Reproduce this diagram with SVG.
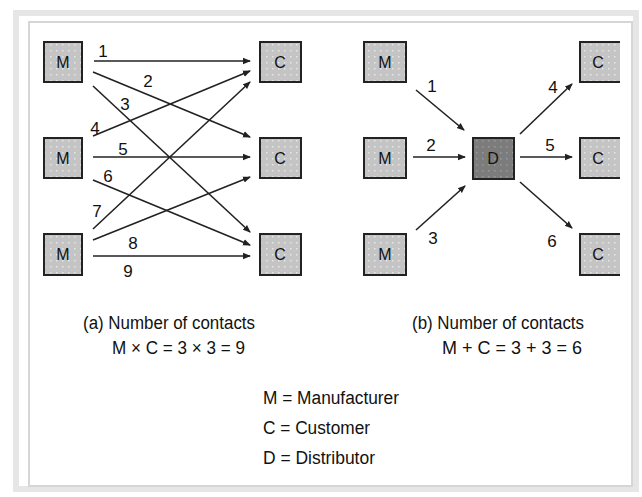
<svg xmlns="http://www.w3.org/2000/svg" width="642" height="497" viewBox="0 0 642 497">
<style>
.frame1{fill:none;stroke:#e6e6e6;stroke-width:6}
.frame2{fill:none;stroke:#d6d6d6;stroke-width:2}
.box{fill:url(#dots);stroke:#222;stroke-width:2}
.dbox{fill:url(#ddots);stroke:#222;stroke-width:2}
.lbl{font-family:"Liberation Sans",Arial,sans-serif;font-size:16px;fill:#111;text-anchor:middle}
.num{font-family:"Liberation Sans",Arial,sans-serif;font-size:17px;fill:#111;text-anchor:middle}
.txt{font-family:"Liberation Sans",Arial,sans-serif;font-size:18px;fill:#111}
.conn line{stroke:#222;stroke-width:1.6;marker-end:url(#ah)}
</style>
<defs>
<pattern id="dots" width="6" height="6" patternUnits="userSpaceOnUse">
<rect width="6" height="6" fill="#c4c4c4"/>
<rect x="2" y="2" width="1.5" height="1.5" fill="#e6e6e6"/>
</pattern>
<pattern id="ddots" width="6" height="6" patternUnits="userSpaceOnUse">
<rect width="6" height="6" fill="#7c7c7c"/>
<rect x="2" y="2" width="1.5" height="1.5" fill="#9a9a9a"/>
</pattern>
<marker id="ah" markerWidth="8" markerHeight="8" refX="7" refY="4" orient="auto" markerUnits="userSpaceOnUse">
<path d="M0,0.8 L8,4 L0,7.2 Z" fill="#222"/>
</marker>
</defs>
<rect width="642" height="497" fill="#ffffff"/>
<rect class="frame1" x="16" y="13" width="620" height="476"/>
<rect class="frame2" x="29" y="22" width="603" height="464"/>

<g class="conn">
<line x1="94" y1="61" x2="250" y2="61"/>
<line x1="93" y1="72" x2="250" y2="137"/>
<line x1="93" y1="86" x2="250" y2="232"/>
<line x1="93" y1="136" x2="250" y2="71"/>
<line x1="93" y1="157" x2="250" y2="157"/>
<line x1="93" y1="180" x2="250" y2="245"/>
<line x1="93" y1="229" x2="250" y2="82"/>
<line x1="93" y1="240" x2="250" y2="177"/>
<line x1="93" y1="256" x2="250" y2="256"/>
<line x1="416" y1="90" x2="464" y2="130"/>
<line x1="413" y1="157" x2="465" y2="157"/>
<line x1="416" y1="230" x2="465" y2="186"/>
<line x1="520" y1="134" x2="572" y2="84"/>
<line x1="520" y1="157" x2="572" y2="157"/>
<line x1="520" y1="182" x2="572" y2="228"/>
</g>

<g id="conn-labels">
<text class="num" x="103" y="57">1</text>
<text class="num" x="148" y="87">2</text>
<text class="num" x="125" y="110">3</text>
<text class="num" x="95" y="134">4</text>
<text class="num" x="123" y="155">5</text>
<text class="num" x="108" y="182">6</text>
<text class="num" x="97" y="217">7</text>
<text class="num" x="133" y="249">8</text>
<text class="num" x="128" y="277">9</text>
<text class="num" x="432" y="92">1</text>
<text class="num" x="431" y="151">2</text>
<text class="num" x="433" y="244">3</text>
<text class="num" x="553" y="93">4</text>
<text class="num" x="550" y="151">5</text>
<text class="num" x="552" y="247">6</text>
</g>

<g id="a-m1"><rect class="box" x="44" y="42" width="38" height="40"/><text class="lbl" x="63" y="68">M</text></g>
<g id="a-m2"><rect class="box" x="44" y="138" width="38" height="40"/><text class="lbl" x="63" y="164">M</text></g>
<g id="a-m3"><rect class="box" x="44" y="234" width="38" height="41"/><text class="lbl" x="63" y="260">M</text></g>
<g id="a-c1"><rect class="box" x="260" y="42" width="41" height="40"/><text class="lbl" x="280" y="68">C</text></g>
<g id="a-c2"><rect class="box" x="260" y="138" width="41" height="40"/><text class="lbl" x="280" y="164">C</text></g>
<g id="a-c3"><rect class="box" x="260" y="234" width="41" height="41"/><text class="lbl" x="280" y="260">C</text></g>

<g id="b-m1"><rect class="box" x="364" y="42" width="42" height="40"/><text class="lbl" x="385" y="68">M</text></g>
<g id="b-m2"><rect class="box" x="364" y="138" width="42" height="40"/><text class="lbl" x="385" y="164">M</text></g>
<g id="b-m3"><rect class="box" x="364" y="234" width="42" height="41"/><text class="lbl" x="385" y="260">M</text></g>
<g id="b-d"><rect class="dbox" x="473" y="138" width="41" height="41"/><text class="lbl" x="493" y="164">D</text></g>
<g id="b-c1"><rect x="580" y="42" width="40" height="40" fill="url(#dots)"/><path d="M620,42 H580 V82 H620" fill="none" stroke="#222" stroke-width="2"/><text class="lbl" x="598" y="68">C</text></g>
<g id="b-c2"><rect x="580" y="138" width="40" height="40" fill="url(#dots)"/><path d="M620,138 H580 V178 H620" fill="none" stroke="#222" stroke-width="2"/><text class="lbl" x="598" y="164">C</text></g>
<g id="b-c3"><rect x="580" y="234" width="40" height="41" fill="url(#dots)"/><path d="M620,234 H580 V275 H620" fill="none" stroke="#222" stroke-width="2"/><text class="lbl" x="598" y="260">C</text></g>

<g id="captions">
<text class="txt" x="83" y="329" textLength="172" lengthAdjust="spacingAndGlyphs">(a) Number of contacts</text>
<text class="txt" x="112" y="354" textLength="133" lengthAdjust="spacingAndGlyphs">M × C = 3 × 3 = 9</text>
<text class="txt" x="412" y="329" textLength="172" lengthAdjust="spacingAndGlyphs">(b) Number of contacts</text>
<text class="txt" x="442" y="354" textLength="140" lengthAdjust="spacingAndGlyphs">M + C = 3 + 3 = 6</text>
<text class="txt" x="263" y="404" textLength="136" lengthAdjust="spacingAndGlyphs">M = Manufacturer</text>
<text class="txt" x="263" y="434" textLength="107" lengthAdjust="spacingAndGlyphs">C = Customer</text>
<text class="txt" x="263" y="464" textLength="112" lengthAdjust="spacingAndGlyphs">D = Distributor</text>
</g>
</svg>
